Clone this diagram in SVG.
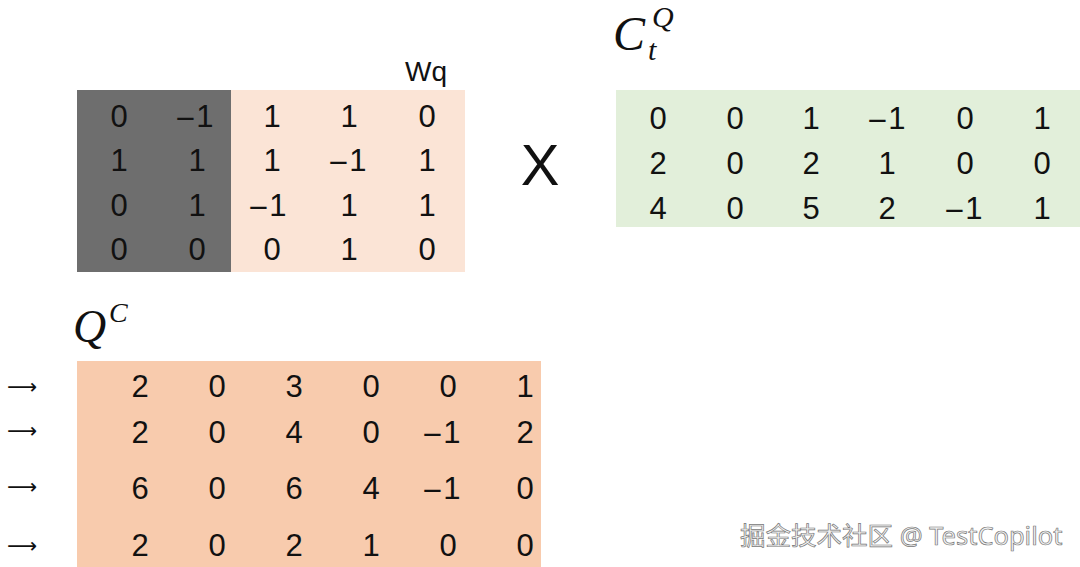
<svg xmlns="http://www.w3.org/2000/svg" width="1080" height="567" viewBox="0 0 1080 567">
<style>
.n{font-family:"Liberation Sans","Noto Sans",sans-serif;font-size:31px;fill:#111;text-anchor:middle}
.mi{font-family:"DejaVu Sans",sans-serif;font-size:26px}
.m{font-family:"Liberation Serif",serif;font-style:italic;fill:#111}
.ar{font-family:"DejaVu Sans",sans-serif;font-size:21px;fill:#111}
</style>
<rect width="1080" height="567" fill="#fff"/>
<g id="wq-matrix">
<rect x="77" y="90" width="154" height="182" fill="#6e6e6e"/>
<rect x="231" y="90" width="234" height="182" fill="#fbe4d6"/>
<text x="426" y="81" font-family="Liberation Sans,sans-serif" font-size="28" fill="#111" text-anchor="middle">Wq</text>
<g class="n">
<text x="119" y="127">0</text><text x="194" y="127"><tspan class="mi">−</tspan>1</text><text x="272" y="127">1</text><text x="349" y="127">1</text><text x="427" y="127">0</text>
<text x="119" y="171">1</text><text x="197" y="171">1</text><text x="272" y="171">1</text><text x="347" y="171"><tspan class="mi">−</tspan>1</text><text x="427" y="171">1</text>
<text x="119" y="216">0</text><text x="197" y="216">1</text><text x="267" y="216"><tspan class="mi">−</tspan>1</text><text x="349" y="216">1</text><text x="427" y="216">1</text>
<text x="119" y="260">0</text><text x="197" y="260">0</text><text x="272" y="260">0</text><text x="349" y="260">1</text><text x="427" y="260">0</text>
</g>
</g>
<g id="times">
<text x="540" y="185" font-family="Liberation Sans,sans-serif" font-size="58" fill="#111" text-anchor="middle">X</text>
</g>
<g id="ctq-matrix">
<text class="m" x="613" y="50" font-size="48">C</text>
<text class="m" x="652" y="27" font-size="30">Q</text>
<text class="m" x="648" y="60" font-size="30">t</text>
<rect x="616" y="90" width="464" height="137" fill="#e2efda"/>
<g class="n">
<text x="658" y="129">0</text><text x="735" y="129">0</text><text x="811" y="129">1</text><text x="886" y="129"><tspan class="mi">−</tspan>1</text><text x="965" y="129">0</text><text x="1042" y="129">1</text>
<text x="658" y="174">2</text><text x="735" y="174">0</text><text x="811" y="174">2</text><text x="887" y="174">1</text><text x="965" y="174">0</text><text x="1042" y="174">0</text>
<text x="658" y="219">4</text><text x="735" y="219">0</text><text x="811" y="219">5</text><text x="887" y="219">2</text><text x="963" y="219"><tspan class="mi">−</tspan>1</text><text x="1042" y="219">1</text>
</g>
</g>
<g id="qc-matrix">
<text class="m" x="73" y="342" font-size="46">Q</text>
<text class="m" x="109" y="322" font-size="28">C</text>
<rect x="77" y="361" width="464" height="206" fill="#f8cbad"/>
<g class="n">
<text x="140" y="397">2</text><text x="217" y="397">0</text><text x="294" y="397">3</text><text x="371" y="397">0</text><text x="448" y="397">0</text><text x="525" y="397">1</text>
<text x="140" y="443">2</text><text x="217" y="443">0</text><text x="294" y="443">4</text><text x="371" y="443">0</text><text x="441" y="443"><tspan class="mi">−</tspan>1</text><text x="525" y="443">2</text>
<text x="140" y="499">6</text><text x="217" y="499">0</text><text x="294" y="499">6</text><text x="371" y="499">4</text><text x="441" y="499"><tspan class="mi">−</tspan>1</text><text x="525" y="499">0</text>
<text x="140" y="556">2</text><text x="217" y="556">0</text><text x="294" y="556">2</text><text x="371" y="556">1</text><text x="448" y="556">0</text><text x="525" y="556">0</text>
</g>
</g>
<g id="connectors">
<text class="ar" x="7" y="394">⟶</text>
<text class="ar" x="7" y="438">⟶</text>
<text class="ar" x="7" y="494">⟶</text>
<text class="ar" x="7" y="553">⟶</text>
</g>
<text x="740" y="545" font-family="Noto Sans,Noto Sans CJK SC,sans-serif" font-size="25.5" fill="#f2f2f2" stroke="#777" stroke-width="0.7">掘金技术社区 @ TestCopilot</text>
</svg>
